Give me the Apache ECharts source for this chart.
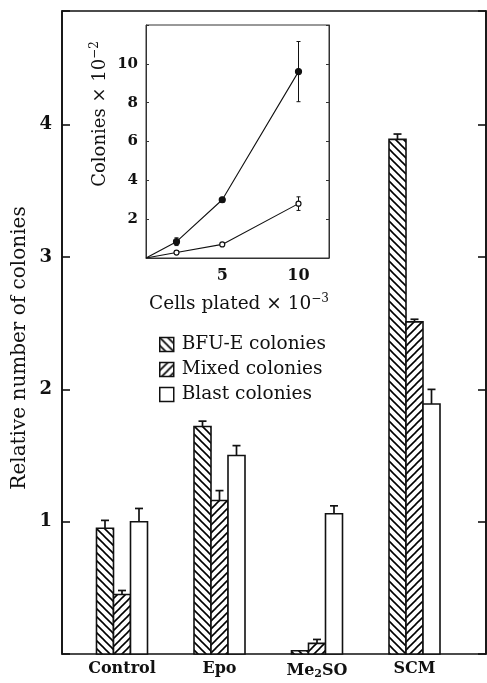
<!DOCTYPE html>
<html><head><meta charset="utf-8">
<script src="https://cdn.jsdelivr.net/npm/echarts@6/dist/echarts.min.js"></script>
<style>html,body{margin:0;padding:0;background:#fff}#c{width:487px;height:683px}</style>
</head><body><div id="c"></div>
<script>
// ---- data ----
const categories = ['Control', 'Epo', 'Me2SO', 'SCM'];
const seriesNames = ['BFU-E colonies', 'Mixed colonies', 'Blast colonies'];
const bfuValues   = [0.95, 1.72, 0.025, 3.89];
const bfuErrors   = [0.06, 0.04, 0.0, 0.04];
const mixedValues = [0.45, 1.16, 0.08, 2.51];
const mixedErrors = [0.03, 0.075, 0.03, 0.02];
const blastValues = [1.0, 1.5, 1.06, 1.89];
const blastErrors = [0.1, 0.075, 0.06, 0.11];
const mainYTicks = [1, 2, 3, 4];

const insetCells = [0, 2, 5, 10];
const insetFilled = [0, 0.84, 3.0, 9.6];
const insetFilledErr = [0, 0.2, 0.12, 1.55];
const insetOpen = [0, 0.28, 0.7, 2.8];
const insetOpenErr = [0, 0.08, 0.08, 0.35];

// ---- patterns ----
function hatch(dir) {
  const s = 8, c = document.createElement('canvas');
  c.width = s; c.height = s;
  const g = c.getContext('2d');
  g.fillStyle = '#fff'; g.fillRect(0, 0, s, s);
  g.strokeStyle = '#000'; g.lineWidth = 1.6;
  const segs = dir === 'back'
    ? [[-4,-4,12,12],[-4,4,4,12],[4,-4,12,4]]
    : [[-4,12,12,-4],[-4,4,4,-4],[4,12,12,4]];
  segs.forEach(p => { g.beginPath(); g.moveTo(p[0],p[1]); g.lineTo(p[2],p[3]); g.stroke(); });
  return { image: c, repeat: 'repeat' };
}
const fills = [hatch('back'), hatch('fwd'), '#fff'];
const valueSets = [bfuValues, mixedValues, blastValues];
const errorSets = [bfuErrors, mixedErrors, blastErrors];

const FONT = 'DejaVu Serif';
const INK = '#111';
const BAR_W = 17;

const chart = echarts.init(document.getElementById('c'), null, { renderer: 'canvas' });

const barSeries = seriesNames.map((n, i) => ({
  name: n, type: 'custom', xAxisIndex: 1, yAxisIndex: 2, z: 3,
  itemStyle: { color: fills[i], borderColor: INK, borderWidth: 1.5 },
  data: categories.map((c, j) => [j, valueSets[i][j], errorSets[i][j]]),
  renderItem: function (params, api) {
    const j = api.value(0), v = api.value(1), e = api.value(2);
    const base = api.coord([j, 0]);
    const top = api.coord([j, v]);
    const etop = api.coord([j, v + e]);
    const x0 = base[0] + (i - 1.5) * BAR_W;
    const xc = base[0] + (i - 1) * BAR_W;
    const st = { stroke: INK, lineWidth: 1.7 };
    const kids = [{ type: 'rect', shape: { x: x0, y: top[1], width: BAR_W, height: base[1] - top[1] },
      style: { fill: fills[i], stroke: INK, lineWidth: 1.6 } }];
    if (e > 0) {
      kids.push({ type: 'line', shape: { x1: xc, y1: top[1], x2: xc, y2: etop[1] }, style: st });
      kids.push({ type: 'line', shape: { x1: xc - 4, y1: etop[1], x2: xc + 4, y2: etop[1] }, style: st });
    }
    return { type: 'group', children: kids };
  }
}));

function insetErr(vals, errs) {
  return {
    type: 'custom', xAxisIndex: 2, yAxisIndex: 3, z: 4,
    data: insetCells.map((x, i) => [x, vals[i], errs[i]]),
    renderItem: function (params, api) {
      const x = api.value(0), v = api.value(1), e = api.value(2);
      if (e <= 0) return null;
      const a = api.coord([x, v + e]), b = api.coord([x, v - e]);
      const st = { stroke: INK, lineWidth: 1 };
      return { type: 'group', children: [
        { type: 'line', shape: { x1: a[0], y1: a[1], x2: b[0], y2: b[1] }, style: st },
        { type: 'line', shape: { x1: a[0] - 2, y1: a[1], x2: a[0] + 2, y2: a[1] }, style: st },
        { type: 'line', shape: { x1: b[0] - 2, y1: b[1], x2: b[0] + 2, y2: b[1] }, style: st }
      ]};
    }
  };
}

function insetLine(vals, filled) {
  return {
    type: 'line', xAxisIndex: 2, yAxisIndex: 3, z: 5,
    symbol: 'circle', symbolSize: filled ? 6 : 5,
    lineStyle: { color: INK, width: 1.1 },
    itemStyle: { color: filled ? INK : '#fff', borderColor: INK, borderWidth: 1.2 },
    data: insetCells.map((x, i) => i === 0 ? { value: [x, vals[i]], symbol: 'none' } : [x, vals[i]])
  };
}

const mainMax = 4.86;

const option = {
  animation: false,
  backgroundColor: '#fff',
  textStyle: { fontFamily: FONT, color: INK },
  grid: [
    { left: 62, right: 1, top: 11, bottom: 29, show: true, borderColor: INK, borderWidth: 1.6, backgroundColor: 'transparent', z: 1 },
    { left: 73.25, width: 390, top: 11, bottom: 29 },
    { left: 146, width: 183, top: 25, height: 233, show: true, borderColor: '#333', borderWidth: 1, z: 2 }
  ],
  xAxis: [
    { gridIndex: 0, type: 'value', min: 0, max: 1, show: false },
    { gridIndex: 1, type: 'category', data: categories,
      axisLine: { show: false }, axisTick: { show: false },
      axisLabel: { interval: 0, margin: 7, fontFamily: FONT, fontWeight: 'bold', fontSize: 16, color: INK,
        formatter: v => v === 'Me2SO' ? 'Me{s|2}SO' : v,
        rich: { s: { fontFamily: FONT, fontWeight: 'bold', fontSize: 11, color: INK, padding: [8, 0, 0, 0] } } } },
    { gridIndex: 2, type: 'value', min: 0, max: 12, interval: 5,
      axisLine: { show: true, lineStyle: { color: '#333', width: 1 } }, axisTick: { show: false },
      splitLine: { show: false },
      axisLabel: { margin: 10, fontFamily: FONT, fontWeight: 'bold', fontSize: 16, color: INK,
        formatter: v => (v === 5 || v === 10) ? String(v) : '' } }
  ],
  yAxis: [
    { gridIndex: 0, type: 'value', min: 0, max: mainMax, interval: 1, position: 'left',
      axisLine: { show: true, lineStyle: { color: INK, width: 1.6 } },
      axisTick: { show: true, inside: true, length: 8, lineStyle: { color: INK, width: 1.6 } },
      splitLine: { show: false },
      axisLabel: { margin: 10, fontFamily: FONT, fontWeight: 'bold', fontSize: 18, color: INK,
        formatter: v => mainYTicks.indexOf(v) >= 0 ? String(v) : '' } },
    { gridIndex: 0, type: 'value', min: 0, max: mainMax, interval: 1, position: 'right',
      axisLine: { show: true, lineStyle: { color: INK, width: 1.6 } },
      axisTick: { show: true, inside: true, length: 8, lineStyle: { color: INK, width: 1.6 } },
      splitLine: { show: false }, axisLabel: { show: false } },
    { gridIndex: 1, type: 'value', min: 0, max: mainMax, show: false },
    { gridIndex: 2, type: 'value', min: 0, max: 12, interval: 2, position: 'left',
      axisLine: { show: true, lineStyle: { color: '#333', width: 1 } },
      axisTick: { show: true, inside: true, length: 3, lineStyle: { color: '#333' } },
      splitLine: { show: false },
      axisLabel: { margin: 8, fontFamily: FONT, fontWeight: 'bold', fontSize: 15, color: INK,
        formatter: v => (v > 0 && v < 12) ? String(v) : '' } },
    { gridIndex: 2, type: 'value', min: 0, max: 12, interval: 2, position: 'right',
      axisLine: { show: true, lineStyle: { color: '#333', width: 1 } },
      axisTick: { show: true, inside: true, length: 3, lineStyle: { color: '#333' } },
      splitLine: { show: false }, axisLabel: { show: false } }
  ],
  legend: seriesNames.map((n, i) => ({
    data: [{ name: n, itemStyle: { color: fills[i], borderColor: INK, borderWidth: 1.5 } }],
    orient: 'vertical', left: 154, top: 330 + i * 25,
    itemWidth: 14, itemHeight: 14, itemGap: 0, icon: 'rect',
    selectedMode: false,
    textStyle: { fontFamily: FONT, fontSize: 18.5, color: INK, padding: [0, 0, 0, 3] }
  })),
  graphic: [
    { type: 'text', x: 20, y: 348, rotation: Math.PI / 2,
      style: { text: 'Relative number of colonies', font: '20px "DejaVu Serif"', fill: INK,
        align: 'center', verticalAlign: 'middle' } },
    { type: 'text', x: 100, y: 114, rotation: Math.PI / 2,
      style: { text: 'Colonies × 10{sup|−2}', font: '18px "DejaVu Serif"', fill: INK,
        align: 'center', verticalAlign: 'middle',
        rich: { sup: { font: '12px "DejaVu Serif"', fill: INK, padding: [0, 0, 10, 0] } } } },
    { type: 'text', x: 239, y: 304,
      style: { text: 'Cells plated × 10{sup|−3}', font: '18.5px "DejaVu Serif"', fill: INK,
        align: 'center', verticalAlign: 'middle',
        rich: { sup: { font: '12px "DejaVu Serif"', fill: INK, padding: [0, 0, 10, 0] } } } }
  ],
  series: [
    ...barSeries,
    insetErr(insetFilled, insetFilledErr),
    insetErr(insetOpen, insetOpenErr),
    insetLine(insetFilled, true),
    insetLine(insetOpen, false)
  ]
};
chart.setOption(option);
</script></body></html>
